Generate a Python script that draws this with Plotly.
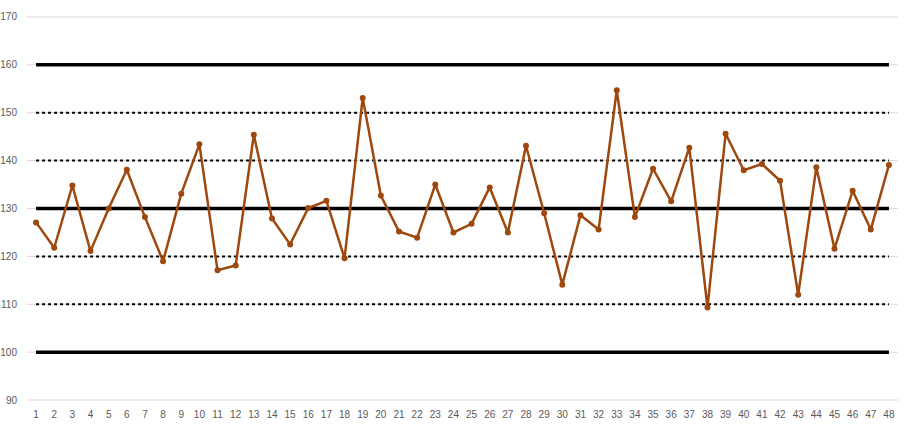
import plotly.graph_objects as go

samples = list(range(1, 49))
values = [127.1, 121.8, 134.8, 121.1, 130.0, 138.1, 128.2, 119.0, 133.1, 143.4,
          117.1, 118.1, 145.4, 127.9, 122.5, 130.1, 131.6, 119.6, 153.1, 132.7,
          125.2, 123.9, 135.0, 125.0, 126.8, 134.4, 125.0, 143.1, 129.0, 114.1,
          128.6, 125.6, 154.7, 128.2, 138.3, 131.5, 142.7, 109.3, 145.6, 138.0,
          139.3, 135.8, 112.0, 138.6, 121.6, 133.7, 125.6, 139.1]

control_limits = [100, 130, 160]   # LCL, centre line, UCL
sigma_lines = [110, 120, 140, 150]
y_ticks = [90, 100, 110, 120, 130, 140, 150, 160, 170]

fig = go.Figure()

# light horizontal gridlines behind everything
for t in y_ticks:
    fig.add_hline(y=t, line_color="#d9d9d9", line_width=1, layer="below")

for lvl in sigma_lines:
    fig.add_trace(go.Scatter(x=samples, y=[lvl] * len(samples), mode="lines",
                             line=dict(color="black", width=2, dash="dot"),
                             hoverinfo="skip", showlegend=False))

for lvl in control_limits:
    fig.add_trace(go.Scatter(x=samples, y=[lvl] * len(samples), mode="lines",
                             line=dict(color="black", width=3.5),
                             hoverinfo="skip", showlegend=False))

fig.add_trace(go.Scatter(x=samples, y=values, mode="lines+markers",
                         line=dict(color="#9E480E", width=2.5),
                         marker=dict(color="#9E480E", size=6),
                         showlegend=False))

fig.update_layout(
    template="none",
    width=909, height=426,
    margin=dict(l=27, r=11, t=16, b=25),
    paper_bgcolor="white", plot_bgcolor="white",
    font=dict(family="Liberation Sans, Arial, sans-serif", size=10, color="#595959"),
)
fig.update_xaxes(range=[0.5, 48.5], tickmode="array", tickvals=samples,
                 ticktext=[str(s) for s in samples], showgrid=False,
                 zeroline=False, showline=False, ticks="", automargin=False,
                 ticklabelstandoff=6, tickfont=dict(size=10))
fig.update_yaxes(range=[89.8, 170.2], tickmode="array", tickvals=y_ticks,
                 showgrid=False, zeroline=False, showline=False, ticks="",
                 automargin=False, ticklabelstandoff=9, tickfont=dict(size=10))

# drop the browser's default 8px body margin so the figure sits at 0,0
fig.write_html("out.html", config={"displayModeBar": False},
               post_script="document.body.style.margin='0';")
